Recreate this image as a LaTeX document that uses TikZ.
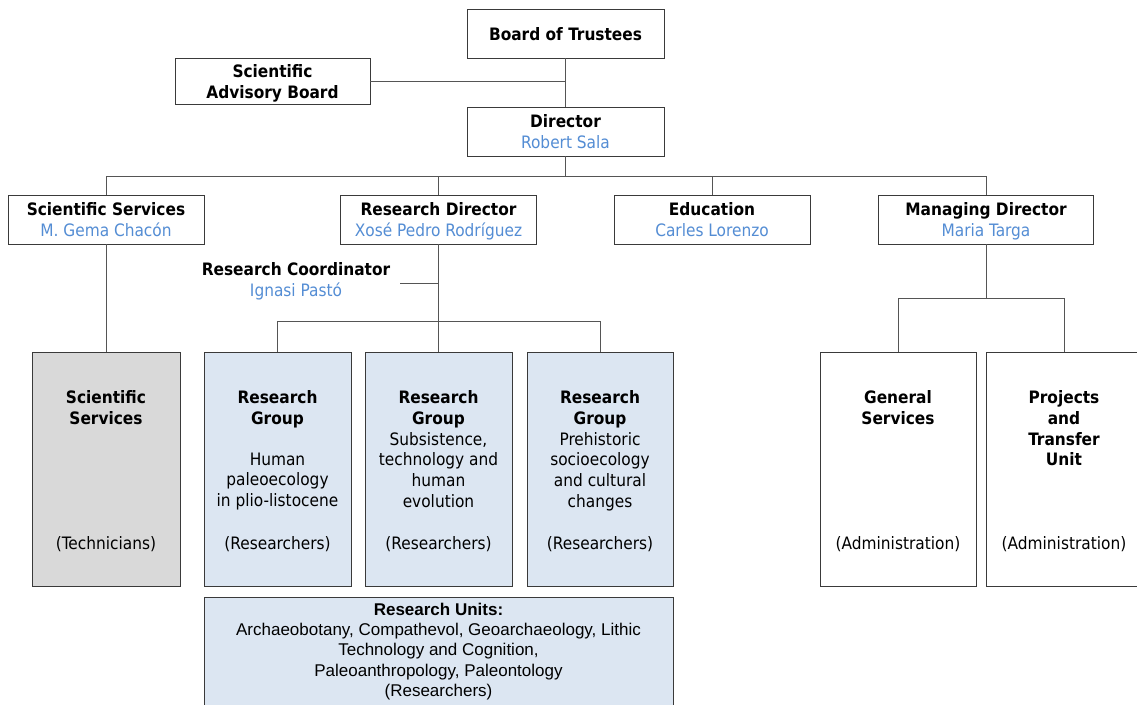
\documentclass[tikz,border=0pt]{standalone}
\usepackage{fontspec}
\setmainfont{DejaVu Sans Condensed}
\newfontfamily\arialfont{Liberation Sans}
\definecolor{nameblue}{HTML}{548DD4}
\definecolor{groupfill}{HTML}{DCE6F2}
\definecolor{techfill}{HTML}{D9D9D9}
\definecolor{boxline}{HTML}{3A3A3A}
\definecolor{connline}{HTML}{555555}
\newcommand\mystrut{\rule[-3.35pt]{0pt}{20.7pt}}
\newcommand\myustrut{\rule[-3.5pt]{0pt}{20.3pt}}
\begin{document}
\begin{tikzpicture}[x=1pt,y=-1pt,
  box/.style={draw=boxline, line width=1pt, fill=white, inner sep=0pt, outer sep=0pt},
  conn/.style={draw=connline, line width=1pt},
  txt/.style={inner sep=0pt, align=center, font=\fontsize{17.1}{20.7}\selectfont,
    execute at begin node=\mystrut, execute at end node=\mystrut},
  mtxt/.style={txt, yshift=-2pt},
  utxt/.style={inner sep=0pt, align=center, font=\arialfont\fontsize{17}{20.3}\selectfont, yshift=-1.5pt,
    execute at begin node=\myustrut, execute at end node=\myustrut}]
\useasboundingbox (0,0) rectangle (1137,704);

% boxes
\node[box, minimum width=197pt, minimum height=49pt] (board) at (565.5,33.5) {};
\node[box, minimum width=195pt, minimum height=46pt] (sab) at (272.5,81) {};
\node[box, minimum width=197pt, minimum height=49pt] (director) at (565.5,131.5) {};
\node[box, minimum width=196pt, minimum height=49pt] (sciserv) at (106,219.5) {};
\node[box, minimum width=196pt, minimum height=49pt] (resdir) at (438.5,219.5) {};
\node[box, minimum width=196pt, minimum height=49pt] (edu) at (712,219.5) {};
\node[box, minimum width=215pt, minimum height=49pt] (mandir) at (986,219.5) {};
\node[box, fill=techfill, minimum width=148pt, minimum height=234pt] (tech) at (106,469) {};
\node[box, fill=groupfill, minimum width=147pt, minimum height=234pt] (rg1) at (277.5,469) {};
\node[box, fill=groupfill, minimum width=147pt, minimum height=234pt] (rg2) at (438.5,469) {};
\node[box, fill=groupfill, minimum width=146pt, minimum height=234pt] (rg3) at (600,469) {};
\node[box, minimum width=156pt, minimum height=234pt] (gs) at (898,469) {};
\node[box, minimum width=156pt, minimum height=234pt] (pt) at (1064,469) {};
\node[box, fill=groupfill, minimum width=469pt, minimum height=110pt] (units) at (438.5,652) {};

% texts of upper boxes
\node[txt] (boardT) at (board.center) {\bfseries Board of Trustees};
\node[mtxt] (sabT) at (sab.center) {\bfseries Scientific\\\bfseries Advisory Board};
\node[mtxt] (directorT) at (director.center) {\bfseries Director\\\textcolor{nameblue}{Robert Sala}};
\node[mtxt] (sciservT) at (sciserv.center) {\bfseries Scientific Services\\\textcolor{nameblue}{M. Gema Chacón}};
\node[mtxt] (resdirT) at (resdir.center) {\bfseries Research Director\\\textcolor{nameblue}{Xosé Pedro Rodríguez}};
\node[mtxt] (eduT) at (edu.center) {\bfseries Education\\\textcolor{nameblue}{Carles Lorenzo}};
\node[mtxt] (mandirT) at (mandir.center) {\bfseries Managing Director\\\textcolor{nameblue}{Maria Targa}};
\node[mtxt] (rc) at (296,279) {\bfseries Research Coordinator\\\textcolor{nameblue}{Ignasi Pastó}};
\coordinate (rcend) at (400,283);

% texts in tall boxes
\node[mtxt] (techT) at (106,407.5) {\bfseries Scientific\\\bfseries Services};
\node[txt] (techB) at (106,542) {(Technicians)};
\node[mtxt] (rg1T) at (277.5,407.5) {\bfseries Research\\\bfseries Group};
\node[mtxt] (rg1S) at (277.5,479.5) {Human\\paleoecology\\in plio-listocene};
\node[txt] (rg1B) at (277.5,542) {(Researchers)};
\node[mtxt] (rg2T) at (438.5,407.5) {\bfseries Research\\\bfseries Group};
\node[mtxt] (rg2S) at (438.5,469.5) {Subsistence,\\technology and\\human\\evolution};
\node[txt] (rg2B) at (438.5,542) {(Researchers)};
\node[mtxt] (rg3T) at (600,407.5) {\bfseries Research\\\bfseries Group};
\node[mtxt] (rg3S) at (600,469.5) {Prehistoric\\socioecology\\and cultural\\changes};
\node[txt] (rg3B) at (600,542) {(Researchers)};
\node[mtxt] (gsT) at (898,407.5) {\bfseries General\\\bfseries Services};
\node[txt] (gsB) at (898,542) {(Administration)};
\node[mtxt] (ptT) at (1064,428) {\bfseries Projects\\\bfseries and\\\bfseries Transfer\\\bfseries Unit};
\node[txt] (ptB) at (1064,542) {(Administration)};
\node[utxt] (unitsT) at (438.5,650) {\bfseries Research Units:\\Archaeobotany, Compathevol, Geoarchaeology, Lithic\\Technology and Cognition,\\Paleoanthropology, Paleontology\\(Researchers)};

% connectors
\coordinate (topbus) at (565.5,176);
\coordinate (rgbus) at (438.5,321);
\coordinate (mdbus) at (986,298);
\draw[conn] (board.south) -- (director.north);
\draw[conn] (sab.east) -- (sab.east -| board.south);
\draw[conn] (director.south) -- (director.south |- topbus);
\draw[conn] (sciserv.north) -- (sciserv.north |- topbus) -- (mandir.north |- topbus) -- (mandir.north);
\draw[conn] (resdir.north) -- (resdir.north |- topbus);
\draw[conn] (edu.north) -- (edu.north |- topbus);
\draw[conn] (sciserv.south) -- (sciserv.south |- tech.north);
\draw[conn] (resdir.south) -- (resdir.south |- rg2.north);
\draw[conn] (rcend) -- (rcend -| resdir.south);
\draw[conn] (rg1.north) -- (rg1.north |- rgbus) -- (rg3.north |- rgbus) -- (rg3.north);
\draw[conn] (mandir.south) -- (mandir.south |- mdbus);
\draw[conn] (gs.north) -- (gs.north |- mdbus) -- (pt.north |- mdbus) -- (pt.north);
\end{tikzpicture}
\end{document}
